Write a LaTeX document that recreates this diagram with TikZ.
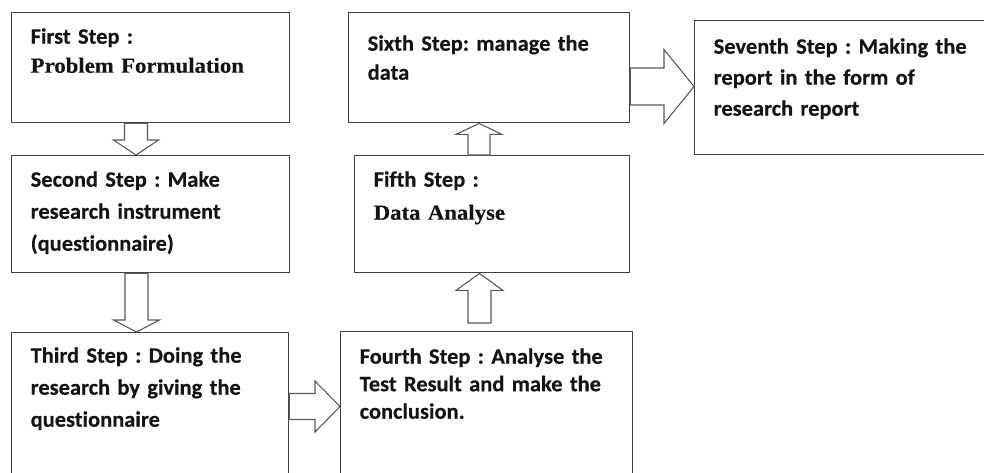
\documentclass[tikz,border=0pt]{standalone}
\usepackage{fontspec}
\newfontfamily\calibrifont{Carlito}[FakeStretch=1.02,WordSpace=0.8,Ligatures=NoCommon,BoldFeatures={FakeBold=0.4}]
\newfontfamily\timesfont{Liberation Serif}[FakeStretch=1.06,BoldFeatures={FakeBold=0.4}]
\usetikzlibrary{calc}
\definecolor{boxline}{HTML}{404040}
\definecolor{arrowline}{HTML}{5A5A5A}
\definecolor{inkblack}{HTML}{141414}
\newcommand{\serifline}{\timesfont\bfseries\fontsize{21.5}{32}\selectfont}
% hollow block arrow: tail, tip, shaft half width, head half width, head length
\newcommand{\blockarrow}[5]{%
  \path (#1) coordinate (ba-tail) (#2) coordinate (ba-tip);
  \path ($(ba-tip)!#5!(ba-tail)$) coordinate (ba-neck);
  \draw[blockarrow] ($(ba-tail)!#3!90:(ba-tip)$) -- ($(ba-neck)!#3!-90:(ba-tail)$)
    -- ($(ba-neck)!#4!-90:(ba-tail)$) -- (ba-tip) -- ($(ba-neck)!#4!90:(ba-tail)$)
    -- ($(ba-neck)!#3!90:(ba-tail)$) -- ($(ba-tail)!#3!-90:(ba-tip)$) -- cycle;
}

\begin{document}
\frenchspacing
\begin{tikzpicture}[x=1pt,y=-1pt,
  stepbox/.style={draw=boxline,line width=1.4pt,anchor=north west,align=left,inner xsep=19pt,inner ysep=0pt,text=inkblack,font=\calibrifont\bfseries\fontsize{22}{32}\selectfont},
  blockarrow/.style={draw=arrowline,line width=1.1pt,fill=white,line join=miter}
]
\useasboundingbox (0,0) rectangle (984,472);
\clip (0,0) rectangle (984,472);
\node[stepbox,text width=240pt,text height=31pt,text depth=79pt] (formulation) at (11,12) {First Step :\\[-3pt]{\serifline Problem Formulation}};
\node[stepbox,text width=240pt,text height=31pt,text depth=86pt] (instrument) at (11,155) {Second Step : Make\\research instrument\\(questionnaire)};
\node[stepbox,text width=239pt,text height=30pt,text depth=118pt] (research) at (11,332) {Third Step : Doing the\\research by giving the\\questionnaire};
\node[stepbox,text width=254pt,text height=32pt,text depth=117pt,font=\calibrifont\bfseries\fontsize{22}{27.5}\selectfont] (testresult) at (340,331) {Fourth Step : Analyse the\\Test Result and make the\\conclusion.};
\node[stepbox,text width=237pt,text height=31pt,text depth=86pt] (analyse) at (354,155) {Fifth Step :\\[1pt]{\serifline Data Analyse}};
\node[stepbox,text width=243pt,text height=38pt,text depth=72pt,font=\calibrifont\bfseries\fontsize{22}{29}\selectfont] (managedata) at (348,12) {Sixth Step: manage the\\data};
\node[stepbox,text width=262pt,text height=33pt,text depth=101pt,font=\calibrifont\bfseries\fontsize{22}{31}\selectfont] (report) at (694,20) {Seventh Step : Making the\\report in the form of\\research report};

\blockarrow{$(formulation.south west)+(125,0)$}{$(instrument.north west)+(125,0)$}{11.5pt}{22.5pt}{15pt}
\blockarrow{$(instrument.south west)+(125.5,0)$}{$(research.north west)+(125.5,0)$}{11.5pt}{23pt}{12pt}
\blockarrow{$(research.north east)+(0,74.5)$}{$(testresult.north west)+(0,75.5)$}{13pt}{25.5pt}{25pt}
\blockarrow{$(testresult.north west)+(139.5,-8)$}{$(analyse.south west)+(125.5,0)$}{11.5pt}{23.5pt}{17pt}
\blockarrow{$(analyse.north west)+(125,0)$}{$(managedata.south west)+(131,0)$}{11pt}{23pt}{11pt}
\blockarrow{$(managedata.north east)+(0,74.5)$}{$(report.north west)+(0,66.5)$}{18.5pt}{37pt}{30pt}
\end{tikzpicture}
\end{document}
